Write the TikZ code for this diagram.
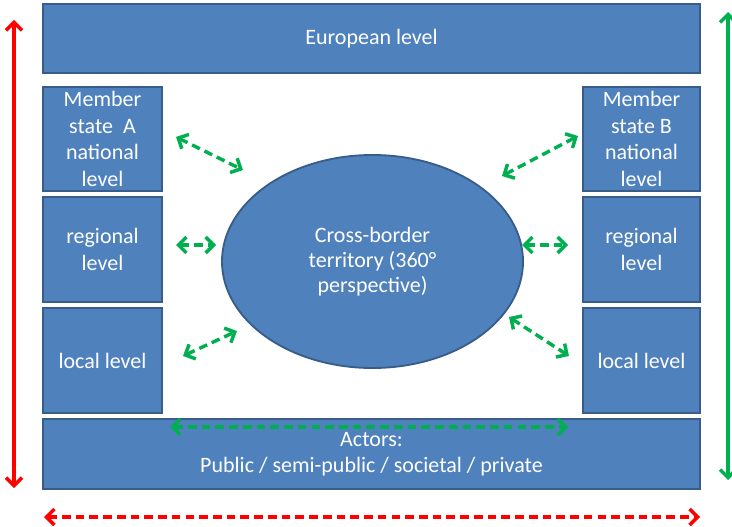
\documentclass[tikz,border=0pt]{standalone}
\usepackage{fontspec}
\setmainfont{Carlito}
\usetikzlibrary{arrows.meta,positioning,shapes.geometric}
\definecolor{boxblue}{HTML}{4F81BD}
\definecolor{boxline}{HTML}{385D8A}
\definecolor{linkgreen}{HTML}{00B050}
\definecolor{spanred}{HTML}{FF0000}

\tikzset{
  level/.style={draw=boxline, fill=boxblue, line width=1.4pt, text=white, align=center,
    inner sep=1pt, font=\fontsize{16.5}{19.9}\selectfont},
  link/.style={linkgreen, line width=2.6pt, dash pattern=on 6.5pt off 3.8pt, {Straight Barb[length=6pt,width=12pt]}-{Straight Barb[length=6pt,width=12pt]}},
  span/.style={line width=2.6pt, {Straight Barb[length=6pt,width=12pt]}-{Straight Barb[length=6pt,width=12pt]}},
}

\begin{document}
\begin{tikzpicture}[x=0.75pt, y=-0.75pt]
  \useasboundingbox (0,0) rectangle (732,527);

  % Levels, top and bottom
  \node[level, minimum width=492.75pt, minimum height=51.75pt] (eu) at (371.5,38.5) {European level};
  \node[level, minimum width=492.75pt, minimum height=52.5pt] (act) at (371.5,454) {Actors:\\Public / semi-public / societal / private};

  % Member state A
  \node[level, minimum width=89.25pt, minimum height=78pt] (natA) at (102.5,139) {Member\\state~~A\\national\\level};
  \node[level, minimum width=89.25pt, minimum height=78.75pt] (regA) at (102.5,249.5) {regional\\level};
  \node[level, minimum width=89.25pt, minimum height=78.75pt] (locA) at (102.5,360.5) {local level};

  % Member state B
  \node[level, minimum width=87.75pt, minimum height=78pt] (natB) at (641.5,139) {Member\\state B\\national\\level};
  \node[level, minimum width=87.75pt, minimum height=78.75pt] (regB) at (641.5,249.5) {regional\\level};
  \node[level, minimum width=87.75pt, minimum height=78.75pt] (locB) at (641.5,360.5) {local level};

  % Territory
  \node[level, ellipse, inner sep=0pt, minimum width=225.75pt, minimum height=159.75pt,
    font=\fontsize{16.5}{18.8}\selectfont] (terr) at (372.5,261.5) {Cross-border\\territory (360°\\perspective)};

  % Arrow ends
  \coordinate (natAa) at (176,137);  \coordinate (natAb) at (243,170);
  \coordinate (regAa) at (176,245);  \coordinate (regAb) at (216,245);
  \coordinate (locAa) at (183,356);  \coordinate (locAb) at (237,331);
  \coordinate (natBa) at (502,176);  \coordinate (natBb) at (578,136);
  \coordinate (regBa) at (522,245);  \coordinate (regBb) at (568,245);
  \coordinate (locBa) at (509,317);  \coordinate (locBb) at (569,356);
  \coordinate (actA) at (170,427);   \coordinate (actB) at (568,427);
  \coordinate (vtop) at (14,20);     \coordinate (vbot) at (14,488);
  \coordinate (gtop) at (728,12);    \coordinate (gbot) at (728,480);
  \coordinate (hleft) at (44,517);   \coordinate (hright) at (700,517);

  % Links with the territory
  \draw[link] (natAa) -- (natAb);
  \draw[link] (regAa) -- (regAb);
  \draw[link] (locAa) -- (locAb);
  \draw[link] (natBa) -- (natBb);
  \draw[link] (regBa) -- (regBb);
  \draw[link] (locBa) -- (locBb);
  \draw[link] (actA) -- (actB);

  % Spans round the diagram
  \draw[span, spanred] (vtop) -- (vbot);
  \draw[span, linkgreen] (gtop) -- (gbot);
  \draw[span, spanred, dash pattern=on 6.5pt off 3.8pt] (hleft) -- (hright);
\end{tikzpicture}
\end{document}
